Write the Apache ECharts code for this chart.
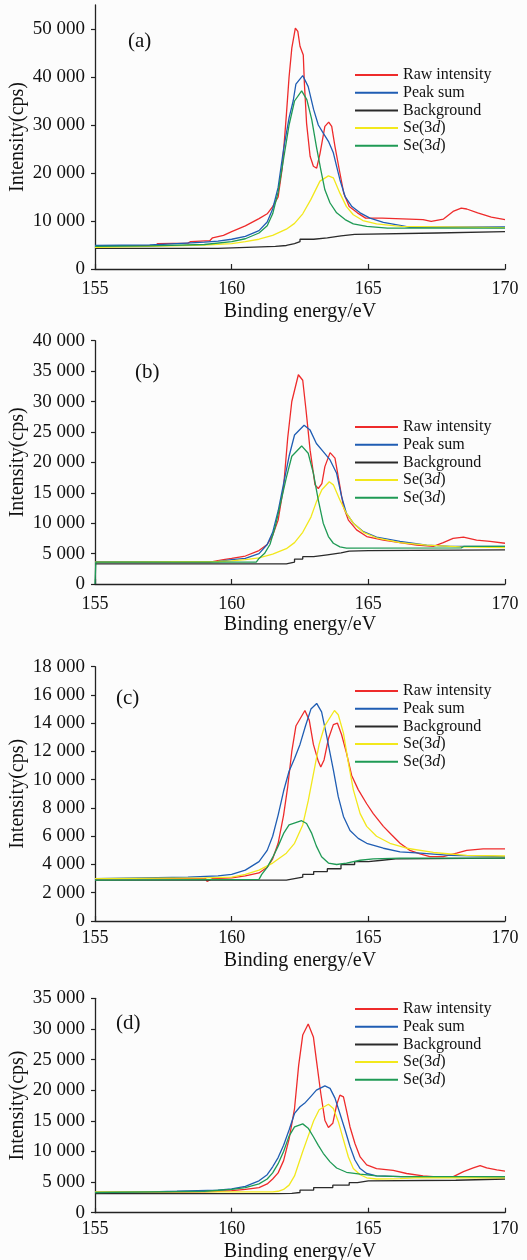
<!DOCTYPE html>
<html><head><meta charset="utf-8">
<script src="https://cdn.jsdelivr.net/npm/echarts@6/dist/echarts.min.js"></script>
<style>html,body{margin:0;padding:0;background:#fcfcfc}#c{width:527px;height:1260px}</style>
</head><body><div id="c"></div>
<script>
// ---------- data (binding energy eV, intensity cps) ----------
const seriesNames = ['Raw intensity','Peak sum','Background','Se(3d)','Se(3d) '];
const panelLabels = ['(a)','(b)','(c)','(d)'];
const xTicks = [155,160,165,170];

const rawA = [[155,4800],[157.2,4900],[157.3,5300],[158.4,5400],[158.5,5700],[159.2,5900],[159.3,6500],[159.7,7000],[160,7800],[160.5,9000],[161,10500],[161.3,11500],[161.5,13000],[161.7,15000],[161.85,21000],[162.0,32000],[162.1,40000],[162.2,46000],[162.33,50200],[162.42,49500],[162.5,46400],[162.62,44600],[162.66,38700],[162.74,30400],[162.87,23500],[162.99,21400],[163.11,21000],[163.23,24000],[163.41,29700],[163.55,30600],[163.66,29700],[163.78,25500],[163.96,20000],[164.1,15800],[164.3,13000],[164.6,11700],[164.9,10600],[165.5,10600],[166,10500],[166.5,10400],[167,10300],[167.3,9900],[167.75,10400],[168.1,12000],[168.4,12700],[168.6,12500],[169,11700],[169.5,10800],[170,10300]];
const sumA = [[155,4900],[157,5000],[158,5300],[159,5600],[159.5,5800],[160,6200],[160.5,6800],[161,8000],[161.3,9800],[161.5,12500],[161.7,17000],[161.9,25000],[162.1,31500],[162.25,35000],[162.35,38500],[162.6,40300],[162.8,38000],[163,33200],[163.17,30000],[163.35,28300],[163.54,26600],[163.72,24200],[163.84,21400],[163.96,18600],[164.15,15100],[164.4,13000],[164.7,11700],[165.06,10600],[165.55,9700],[166.16,9100],[166.5,8700],[170,8750]];
const bgA = [[155,4300],[159.5,4700],[161.6,4900],[162,5300],[162.3,5700],[162.5,6200],[163,6500],[163.5,6900],[164,7200],[164.5,7500],[167.5,7800],[170,7800]];
const se1A = [[155,4500],[157,4700],[159,5000],[160,5300],[160.5,5700],[161,6200],[161.5,7000],[162,8300],[162.3,9500],[162.6,11500],[162.9,14500],[163.23,18300],[163.54,19400],[163.72,19000],[163.96,15800],[164.2,13000],[164.45,11300],[164.8,10100],[165.3,9400],[166,9000],[166.2,8900],[170,8600]];
const se2A = [[155,4700],[157,4800],[159,5100],[160,5700],[160.5,6300],[161,7500],[161.3,9000],[161.5,11500],[161.7,16000],[161.9,23000],[162.1,30000],[162.3,35000],[162.56,37100],[162.75,35300],[162.93,31100],[163.1,25500],[163.26,20700],[163.41,16500],[163.6,13750],[163.84,11700],[164.15,10300],[164.45,9400],[164.94,8900],[165.7,8500],[170,8500]];

const rawB = [[155,3600],[159.2,3600],[159.25,3900],[159.7,4000],[160,4200],[160.5,4600],[161,5500],[161.3,6500],[161.5,8000],[161.7,10500],[161.9,16000],[162.05,24000],[162.2,30000],[162.44,34400],[162.6,33500],[162.72,28600],[162.87,22000],[163.05,16300],[163.17,15700],[163.3,16500],[163.41,19300],[163.6,21600],[163.78,20700],[163.9,17600],[164.09,12700],[164.27,10500],[164.57,8900],[164.94,7800],[165.55,7200],[166.16,6800],[166.77,6400],[167.38,6200],[167.74,6800],[168.1,7500],[168.48,7700],[168.96,7200],[169.45,7000],[170,6700]];
const sumB = [[155,3600],[159.5,3700],[160,4000],[160.5,4200],[161,5000],[161.3,6500],[161.5,8500],[161.7,12000],[161.9,16500],[162.1,21000],[162.3,24500],[162.65,26100],[162.87,25300],[163.1,23100],[163.35,21750],[163.6,20400],[163.84,18200],[164.02,14400],[164.2,11600],[164.45,10000],[164.82,8600],[165.3,7700],[166.16,7000],[167.13,6400],[168,6200],[170,6200]];
const bgB = [[155,3300],[161.8,3300],[162,3600],[162.3,4100],[162.6,4500],[163,4800],[163.5,5100],[164,5400],[164.3,5500],[165,5600],[170,5600]];
const se1B = [[155,3600],[159.5,3700],[160,3800],[160.5,4000],[161,4300],[161.5,4900],[162,5800],[162.3,6800],[162.6,8500],[162.9,11000],[163.1,13500],[163.3,15500],[163.57,16800],[163.72,16300],[163.96,13800],[164.2,11600],[164.45,10000],[164.82,8500],[165.3,7600],[166.16,6800],[167.13,6400],[168.35,6100],[170,6000]];
const se2B = [[155,0],[155.03,3600],[160.9,3600],[161,4200],[161.2,5000],[161.4,6500],[161.6,9500],[161.8,13500],[162,17500],[162.2,21000],[162.56,22700],[162.8,21500],[162.99,18200],[163.17,13800],[163.35,10000],[163.54,7800],[163.72,6700],[163.96,6100],[164.2,5900],[168.4,5950],[168.5,6200],[170,6200]];

const rawC = [[155,3000],[159.05,3000],[159.1,2800],[159.3,3000],[160,3050],[160.5,3200],[161,3400],[161.3,3800],[161.5,4400],[161.7,5500],[161.9,7500],[162.05,9500],[162.2,12000],[162.35,13800],[162.68,14900],[162.84,14200],[162.99,12500],[163.17,11300],[163.26,10900],[163.38,11400],[163.54,12900],[163.72,13900],[163.87,14000],[164.02,13200],[164.2,11900],[164.39,10300],[164.63,9300],[164.94,8300],[165.18,7600],[165.55,6700],[165.85,6100],[166.16,5500],[166.52,5000],[166.89,4750],[167.25,4550],[167.74,4550],[168.23,4800],[168.6,5000],[169.2,5100],[170,5100]];
const sumC = [[155,3000],[158.4,3100],[159.5,3200],[160,3300],[160.5,3600],[161,4200],[161.3,5000],[161.5,6000],[161.7,7500],[161.9,9200],[162.1,10600],[162.3,11500],[162.5,12500],[162.7,13800],[162.9,15000],[163.11,15400],[163.29,14800],[163.48,13050],[163.72,10700],[163.9,8800],[164.09,7400],[164.33,6400],[164.63,5850],[164.94,5500],[165.55,5150],[166.16,4900],[166.9,4800],[168,4650],[170,4550]];
const bgC = [[155,2900],[161.9,2900],[162,3000],[162.3,3100],[162.6,3300],[163,3500],[163.5,3700],[164,4000],[164.5,4200],[165,4300],[165.5,4400],[166,4450],[170,4450]];
const se1C = [[155,3000],[159,3050],[160,3100],[160.5,3300],[161,3600],[161.5,4100],[162,4800],[162.3,5500],[162.6,6800],[162.8,8500],[163,10500],[163.2,12500],[163.4,13800],[163.76,14900],[163.9,14600],[164.09,13300],[164.27,11200],[164.45,9300],[164.7,7600],[164.94,6700],[165.3,6000],[165.79,5500],[166.4,5150],[167.38,4850],[168.6,4650],[170,4600]];
const se2C = [[155,2900],[161,2950],[161.1,3300],[161.3,3800],[161.5,4500],[161.7,5300],[161.9,6200],[162.1,6800],[162.56,7100],[162.74,6900],[162.93,6200],[163.1,5300],[163.29,4550],[163.54,4100],[163.84,4000],[164.2,4100],[164.7,4300],[165.18,4400],[166.16,4450],[170,4450]];

const rawD = [[155,3300],[159,3400],[159.5,3500],[160,3600],[160.5,3800],[161,4100],[161.3,4700],[161.5,5500],[161.7,6500],[161.9,8500],[162.1,12000],[162.3,17000],[162.45,24000],[162.6,29000],[162.8,30800],[162.99,28700],[163.1,24900],[163.26,19500],[163.41,15100],[163.54,13900],[163.7,14600],[163.84,17600],[163.96,19200],[164.09,18900],[164.2,16700],[164.33,14000],[164.51,11300],[164.7,9100],[164.94,7800],[165.3,7200],[165.91,6900],[166.4,6400],[167,6000],[167.62,5800],[168.11,5900],[168.48,6700],[168.84,7300],[169.09,7700],[169.33,7300],[169.7,7000],[170,6800]];
const sumD = [[155,3300],[157,3400],[158,3500],[159.5,3700],[160,3900],[160.5,4300],[161,5200],[161.3,6200],[161.5,7500],[161.7,9000],[161.9,11000],[162.1,13500],[162.3,16200],[162.5,17300],[162.7,18000],[162.9,19000],[163.1,20000],[163.41,20700],[163.6,20300],[163.78,18700],[163.96,16200],[164.15,13500],[164.33,10800],[164.51,8600],[164.7,7200],[164.94,6400],[165.3,6000],[166.2,5900],[170,5800]];
const bgD = [[155,3100],[161.6,3100],[161.7,3150],[162.2,3300],[162.5,3700],[163,4100],[163.7,4500],[164.3,4900],[164.6,5200],[165,5300],[168.2,5500],[170,5500]];
const se1D = [[155,3400],[161.5,3400],[161.7,3500],[161.9,3800],[162.1,4500],[162.3,6000],[162.45,8000],[162.6,10000],[162.8,12500],[163,15000],[163.2,16800],[163.54,17700],[163.72,17000],[163.9,14900],[164.09,11900],[164.27,9100],[164.45,7200],[164.7,6200],[164.94,5700],[165.3,5500],[166.16,5550],[166.89,5750],[170,5700]];
const se2D = [[155,3300],[157,3400],[159,3500],[160,3800],[160.5,4100],[161,4700],[161.3,5500],[161.5,6500],[161.7,8000],[161.9,10000],[162.1,12500],[162.3,14000],[162.6,14500],[162.8,13800],[162.99,12400],[163.17,11000],[163.35,9700],[163.6,8300],[163.84,7300],[164.2,6600],[164.7,6300],[165.3,6000],[166.2,5900],[170,5900]];

const yTicksA = [0,10000,20000,30000,40000,50000];
const yTicksB = [0,5000,10000,15000,20000,25000,30000,35000,40000];
const yTicksC = [0,2000,4000,6000,8000,10000,12000,14000,16000,18000];
const yTicksD = [0,5000,10000,15000,20000,25000,30000,35000];

// ---------- layout / style ----------
const FONT = '"Liberation Serif","Times New Roman",serif';
const COLORS = ['#ee2b2b','#1f5db3','#2a2a2a','#f2e81c','#1f9a55'];
const panels = [
  {data:[rawA,sumA,bgA,se1A,se2A], ticks:yTicksA, max:55000, top:5, h:264, lab:[128,31], leg:67, nameGap:33, lm:11},
  {data:[rawB,sumB,bgB,se1B,se2B], ticks:yTicksB, max:40000, top:340.7, h:243.3, lab:[135,362], leg:419, nameGap:31, lm:11},
  {data:[rawC,sumC,bgC,se1C,se2C], ticks:yTicksC, max:18000, top:666.7, h:254.3, lab:[116,688], leg:683, nameGap:30, lm:8},
  {data:[rawD,sumD,bgD,se1D,se2D], ticks:yTicksD, max:35000, top:998.3, h:214.4, lab:[116,1013], leg:1001, nameGap:29, lm:8}
];
const fmt = v => String(v).replace(/\B(?=(\d{3})+(?!\d))/g, ' ');

const option = {
  backgroundColor:'#fcfcfc',
  animation:false,
  title: panels.map((p,i)=>({text:panelLabels[i], left:p.lab[0], top:p.lab[1], padding:0,
     textStyle:{fontFamily:FONT, fontSize:21, fontWeight:'normal', color:'#111'}})),
  legend: panels.map(p=>({orient:'vertical', left:355, top:p.leg, padding:0, itemGap:1.7,
     icon:'rect', itemWidth:43, itemHeight:2, data:seriesNames, selectedMode:false,
     formatter: n => n.trim()==='Se(3d)' ? 'Se(3{i|d})' : n,
     textStyle:{fontFamily:FONT, fontSize:16, lineHeight:16, color:'#111',
       rich:{i:{fontFamily:FONT, fontSize:16, lineHeight:16, fontStyle:'italic', color:'#111'}}}})),
  grid: panels.map(p=>({left:95, right:22, top:p.top, height:p.h, containLabel:false, outerBoundsMode:'none'})),
  xAxis: panels.map((p,i)=>({type:'value', gridIndex:i, min:155, max:170, interval:5,
     name:'Binding energy/eV', nameLocation:'middle', nameGap:p.nameGap, nameMoveOverlap:false,
     nameTextStyle:{fontFamily:FONT, fontSize:20, color:'#111'},
     axisLine:{lineStyle:{color:'#222', width:1.3}},
     axisTick:{inside:true, length:5, lineStyle:{color:'#222', width:1.2}},
     axisLabel:{fontFamily:FONT, fontSize:18, color:'#111', margin:p.lm},
     splitLine:{show:false}})),
  yAxis: panels.map((p,i)=>({type:'value', gridIndex:i, min:0, max:p.max,
     name:'Intensity(cps)', nameLocation:'middle', nameGap:67, nameMoveOverlap:false,
     nameTextStyle:{fontFamily:FONT, fontSize:20, color:'#111'},
     axisLine:{show:true, lineStyle:{color:'#222', width:1.3}},
     axisTick:{show:true, length:4, customValues:p.ticks, lineStyle:{color:'#222', width:1.2}},
     axisLabel:{fontFamily:FONT, fontSize:19, color:'#111', margin:10, customValues:p.ticks,
        formatter: v => fmt(v)},
     splitLine:{show:false}})),
  series: []
};
panels.forEach((p,i)=>{
  p.data.forEach((d,k)=>{
    option.series.push({type:'line', name:seriesNames[k], xAxisIndex:i, yAxisIndex:i,
      data:d, showSymbol:false, symbol:'none', color:COLORS[k],
      step: k===2 ? 'end' : false,
      lineStyle:{color:COLORS[k], width:1.3}, itemStyle:{color:COLORS[k]}, emphasis:{disabled:true}});
  });
});
const chart = echarts.init(document.getElementById('c'), null, {renderer:'canvas'});
chart.setOption(option);
</script></body></html>
